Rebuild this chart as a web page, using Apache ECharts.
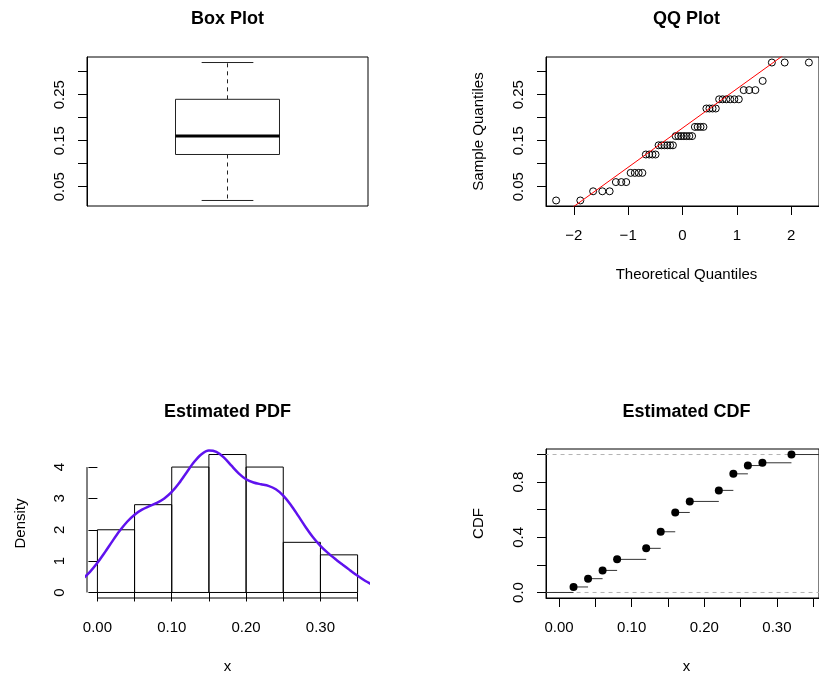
<!DOCTYPE html>
<html>
<head>
<meta charset="utf-8">
<script src="https://cdn.jsdelivr.net/npm/echarts@6/dist/echarts.min.js"></script>
<style>
html,body{margin:0;padding:0;background:#fff;}
#chart{width:819px;height:677px;}
</style>
</head>
<body>
<div id="chart"></div>
<script>
// ---------------- data ----------------
// Box plot five-number summary: min, Q1, median, Q3, max
const boxStats = [0.02, 0.12, 0.16, 0.24, 0.32];

// QQ plot: theoretical normal quantiles and sorted sample values
const qqTheoretical = [
  -2.3263, -1.8808, -1.6449, -1.4758, -1.3408, -1.2265, -1.1264, -1.0364, -0.9542, -0.8779,
  -0.8064, -0.7388, -0.6745, -0.6128, -0.5534, -0.4959, -0.4399, -0.3853, -0.3319, -0.2793,
  -0.2275, -0.1764, -0.1257, -0.0753, -0.0251, 0.0251, 0.0753, 0.1257, 0.1764, 0.2275,
  0.2793, 0.3319, 0.3853, 0.4399, 0.4959, 0.5534, 0.6128, 0.6745, 0.7388, 0.8064,
  0.8779, 0.9542, 1.0364, 1.1264, 1.2265, 1.3408, 1.4758, 1.6449, 1.8808, 2.3263
];
const qqSample = [
  0.02, 0.02, 0.04, 0.04, 0.04, 0.06, 0.06, 0.06, 0.08, 0.08,
  0.08, 0.08, 0.12, 0.12, 0.12, 0.12, 0.14, 0.14, 0.14, 0.14,
  0.14, 0.14, 0.16, 0.16, 0.16, 0.16, 0.16, 0.16, 0.16, 0.18,
  0.18, 0.18, 0.18, 0.22, 0.22, 0.22, 0.22, 0.24, 0.24, 0.24,
  0.24, 0.24, 0.24, 0.26, 0.26, 0.26, 0.28, 0.32, 0.32, 0.32
];
const qqLineX = [-3, 3];
const qqLineY = [-0.0783, 0.4333];

// Histogram (density scale)
const histBreaks = [0.00, 0.05, 0.10, 0.15, 0.20, 0.25, 0.30, 0.35];
const histDensity = [2.0, 2.8, 4.0, 4.4, 4.0, 1.6, 1.2];

// Kernel density curve
const kdeX = [-0.02, -0.01, 0.00, 0.01, 0.02, 0.03, 0.04, 0.05, 0.06, 0.07,
              0.08, 0.09, 0.10, 0.11, 0.12, 0.13, 0.14, 0.15, 0.16, 0.17,
              0.18, 0.19, 0.20, 0.21, 0.22, 0.23, 0.24, 0.25, 0.26, 0.27,
              0.28, 0.29, 0.30, 0.31, 0.32, 0.33, 0.34, 0.35, 0.36, 0.37];
const kdeY = [0.427, 0.658, 0.947, 1.280, 1.631, 1.966, 2.256, 2.481, 2.640, 2.753,
              2.857, 2.996, 3.205, 3.492, 3.829, 4.159, 4.410, 4.525, 4.481, 4.308,
              4.051, 3.801, 3.611, 3.508, 3.451, 3.401, 3.293, 3.092, 2.800, 2.450,
              2.091, 1.764, 1.489, 1.263, 1.068, 0.885, 0.705, 0.531, 0.374, 0.244];

// Empirical CDF jump points
const ecdfX = [0.02, 0.04, 0.06, 0.08, 0.12, 0.14, 0.16, 0.18, 0.22, 0.24, 0.26, 0.28, 0.32];
const ecdfY = [0.04, 0.10, 0.16, 0.24, 0.32, 0.44, 0.58, 0.66, 0.74, 0.86, 0.92, 0.94, 1.00];

// Tick positions and labels
const sampleTicks = [0.05, 0.10, 0.15, 0.20, 0.25, 0.30];
const sampleLabels = [0.05, 0.15, 0.25];
const qqXTicks = [-2, -1, 0, 1, 2];
const xTicks = [0.00, 0.05, 0.10, 0.15, 0.20, 0.25, 0.30, 0.35];
const xLabels = [0.00, 0.10, 0.20, 0.30];
const densTicks = [0, 1, 2, 3, 4];
const cdfTicks = [0.0, 0.2, 0.4, 0.6, 0.8, 1.0];
const cdfLabels = [0.0, 0.4, 0.8];

// ---------------- layout / style ----------------
const FONT = "'Liberation Sans', Arial, Helvetica, sans-serif";
const ranges = {
  box:  { x: [0, 1], y: [0.008, 0.332] },
  qq:   { x: [-2.5124, 2.5124], y: [0.008, 0.332] },
  pdf:  { x: [-0.014, 0.364], y: [-0.176, 4.576] },
  cdf:  { x: [-0.0179, 0.3579], y: [-0.04, 1.04] }
};
const G = [
  { left: 87, top: 57, width: 281, height: 149 },
  { left: 546, top: 57, width: 281, height: 149 },
  { left: 87, top: 449, width: 281, height: 149 },
  { left: 546, top: 449, width: 281, height: 149 }
];

const labelStyle = { color: '#000', fontFamily: FONT, fontSize: 15 };
const tickStyle = { show: true, inside: false, length: 9, lineStyle: { color: '#000', width: 1 } };

function xAx(gi, r, opt) {
  return Object.assign({
    gridIndex: gi, type: 'value', min: r[0], max: r[1], position: 'bottom',
    splitLine: { show: false },
    axisLine: { show: true, onZero: false, lineStyle: { color: '#000', width: 1 } }
  }, opt);
}
function yAx(gi, r, opt) {
  return Object.assign({
    gridIndex: gi, type: 'value', min: r[0], max: r[1], position: 'left',
    splitLine: { show: false },
    axisLine: { show: true, onZero: false, lineStyle: { color: '#000', width: 1 } }
  }, opt);
}
const fmt2 = v => Number(v).toFixed(2);
const fmt1 = v => Number(v).toFixed(1);
const fmtMinus = v => (v < 0 ? '\u2212' : '') + Math.abs(v);

const xAxes = [
  xAx(0, ranges.box.x, { show: false }),
  xAx(1, ranges.qq.x, {
    axisTick: Object.assign({ customValues: qqXTicks }, tickStyle),
    axisLabel: Object.assign({ customValues: qqXTicks, margin: 22, formatter: fmtMinus }, labelStyle)
  }),
  xAx(2, ranges.pdf.x, {
    axisLine: { show: false },
    axisTick: Object.assign({ customValues: xTicks }, tickStyle),
    axisLabel: Object.assign({ customValues: xLabels, margin: 22, formatter: fmt2 }, labelStyle)
  }),
  xAx(3, ranges.cdf.x, {
    axisTick: Object.assign({ customValues: xTicks }, tickStyle),
    axisLabel: Object.assign({ customValues: xLabels, margin: 22, formatter: fmt2 }, labelStyle)
  })
];
const yAxes = [
  yAx(0, ranges.box.y, {
    axisTick: Object.assign({ customValues: sampleTicks }, tickStyle),
    axisLabel: Object.assign({ customValues: sampleLabels, rotate: 90, margin: 20, formatter: fmt2 }, labelStyle)
  }),
  yAx(1, ranges.qq.y, {
    axisTick: Object.assign({ customValues: sampleTicks }, tickStyle),
    axisLabel: Object.assign({ customValues: sampleLabels, rotate: 90, margin: 20, formatter: fmt2 }, labelStyle)
  }),
  yAx(2, ranges.pdf.y, {
    axisLine: { show: false },
    axisTick: Object.assign({ customValues: densTicks }, tickStyle),
    axisLabel: Object.assign({ customValues: densTicks, rotate: 90, margin: 20 }, labelStyle)
  }),
  yAx(3, ranges.cdf.y, {
    axisTick: Object.assign({ customValues: cdfTicks }, tickStyle),
    axisLabel: Object.assign({ customValues: cdfLabels, rotate: 90, margin: 20, formatter: fmt1 }, labelStyle)
  })
];

const grids = G.map((g, i) => Object.assign({
  show: i !== 2, borderColor: '#000', borderWidth: 1, backgroundColor: 'transparent', containLabel: false
}, g));

function seg(api, a, b, style) {
  const p = api.coord(a), q = api.coord(b);
  return { type: 'line', shape: { x1: p[0], y1: p[1], x2: q[0], y2: q[1] }, style: style };
}

// ---------------- series ----------------
const series = [];

// Box plot
series.push({
  type: 'custom', xAxisIndex: 0, yAxisIndex: 0, clip: false,
  data: [[0.5].concat(boxStats)],
  renderItem: function (params, api) {
    const cx = api.value(0);
    const mn = api.value(1), q1 = api.value(2), md = api.value(3), q3 = api.value(4), mx = api.value(5);
    const hw = 0.185, cw = 0.092;
    const solid = { stroke: '#222', lineWidth: 1, fill: null };
    const dashed = { stroke: '#222', lineWidth: 1, lineDash: [4, 4], fill: null };
    const a = api.coord([cx - hw, q3]), b = api.coord([cx + hw, q1]);
    return {
      type: 'group',
      children: [
        seg(api, [cx, q3], [cx, mx], dashed),
        seg(api, [cx, q1], [cx, mn], dashed),
        seg(api, [cx - cw, mx], [cx + cw, mx], solid),
        seg(api, [cx - cw, mn], [cx + cw, mn], solid),
        { type: 'rect', shape: { x: a[0], y: a[1], width: b[0] - a[0], height: b[1] - a[1] },
          style: { fill: '#fff', stroke: '#222', lineWidth: 1 } },
        seg(api, [cx - hw, md], [cx + hw, md], { stroke: '#000', lineWidth: 3 })
      ]
    };
  }
});

// QQ points
series.push({
  type: 'scatter', xAxisIndex: 1, yAxisIndex: 1,
  data: qqTheoretical.map((t, i) => [t, qqSample[i]]),
  symbol: 'circle', symbolSize: 7,
  itemStyle: { color: 'rgba(0,0,0,0)', borderColor: '#000', borderWidth: 1, opacity: 1 },
  clip: false, z: 2
});
// QQ reference line
series.push({
  type: 'line', xAxisIndex: 1, yAxisIndex: 1,
  data: qqLineX.map((x, i) => [x, qqLineY[i]]),
  showSymbol: false, symbol: 'none', clip: true,
  lineStyle: { color: '#ff0000', width: 1 }, z: 3
});

// Histogram bars
series.push({
  type: 'custom', xAxisIndex: 2, yAxisIndex: 2, clip: false,
  data: histDensity.map((d, i) => [histBreaks[i], histBreaks[i + 1], d]),
  renderItem: function (params, api) {
    const p = api.coord([api.value(0), 0]), q = api.coord([api.value(1), api.value(2)]);
    return { type: 'rect', shape: { x: p[0], y: q[1], width: q[0] - p[0], height: p[1] - q[1] },
             style: { fill: null, stroke: '#000', lineWidth: 1 } };
  }
});
// Axis segments for the histogram panel (R draws them from first to last tick)
series.push({
  type: 'custom', xAxisIndex: 2, yAxisIndex: 2, clip: false, silent: true,
  data: [
    [ranges.pdf.x[0], densTicks[0], ranges.pdf.x[0], densTicks[densTicks.length - 1]],
    [xTicks[0], ranges.pdf.y[0], xTicks[xTicks.length - 1], ranges.pdf.y[0]]
  ],
  renderItem: function (params, api) {
    return seg(api, [api.value(0), api.value(1)], [api.value(2), api.value(3)], { stroke: '#000', lineWidth: 1 });
  }
});
// Density curve
series.push({
  type: 'line', xAxisIndex: 2, yAxisIndex: 2,
  data: kdeX.map((x, i) => [x, kdeY[i]]),
  showSymbol: false, symbol: 'none', smooth: 0.3, clip: true,
  lineStyle: { color: '#5f12ee', width: 2.5 }, z: 3
});

// ECDF reference dashed lines at 0 and 1
series.push({
  type: 'custom', xAxisIndex: 3, yAxisIndex: 3, clip: true, silent: true,
  data: [[-1, 1, 0], [-1, 1, 1]],
  renderItem: function (params, api) {
    return seg(api, [api.value(0), api.value(2)], [api.value(1), api.value(2)],
               { stroke: '#b3b3b3', lineWidth: 1, lineDash: [4, 4] });
  }
});
// ECDF horizontal steps
const stepData = [[-1, ecdfX[0], 0]].concat(
  ecdfX.map((x, i) => [x, i < ecdfX.length - 1 ? ecdfX[i + 1] : 1, ecdfY[i]]));
series.push({
  type: 'custom', xAxisIndex: 3, yAxisIndex: 3, clip: true,
  data: stepData,
  renderItem: function (params, api) {
    return seg(api, [api.value(0), api.value(2)], [api.value(1), api.value(2)],
               { stroke: '#333', lineWidth: 1 });
  }
});
// ECDF points
series.push({
  type: 'scatter', xAxisIndex: 3, yAxisIndex: 3,
  data: ecdfX.map((x, i) => [x, ecdfY[i]]),
  symbol: 'circle', symbolSize: 8, itemStyle: { color: '#000', opacity: 1 }, z: 4
});

// ---------------- titles and axis names ----------------
function txt(x, y, text, bold, rot) {
  return {
    type: 'text', x: x, y: y, rotation: rot ? Math.PI / 2 : 0, silent: true,
    style: { text: text, fill: '#000', fontFamily: FONT, fontSize: bold ? 18 : 15,
             fontWeight: bold ? 'bold' : 'normal', align: 'center', verticalAlign: 'middle' }
  };
}
const graphics = [
  txt(227.5, 19, 'Box Plot', true),
  txt(686.5, 19, 'QQ Plot', true),
  txt(227.5, 412.5, 'Estimated PDF', true),
  txt(686.5, 412.5, 'Estimated CDF', true),
  txt(686.5, 275, 'Theoretical Quantiles', false),
  txt(479, 131.5, 'Sample Quantiles', false, true),
  txt(21, 523.5, 'Density', false, true),
  txt(227.5, 667, 'x', false),
  txt(479, 523.5, 'CDF', false, true),
  txt(686.5, 667, 'x', false)
];

const chart = echarts.init(document.getElementById('chart'), null, { renderer: 'canvas' });
chart.setOption({
  animation: false,
  backgroundColor: '#fff',
  grid: grids,
  xAxis: xAxes,
  yAxis: yAxes,
  series: series,
  graphic: graphics
});
</script>
</body>
</html>
